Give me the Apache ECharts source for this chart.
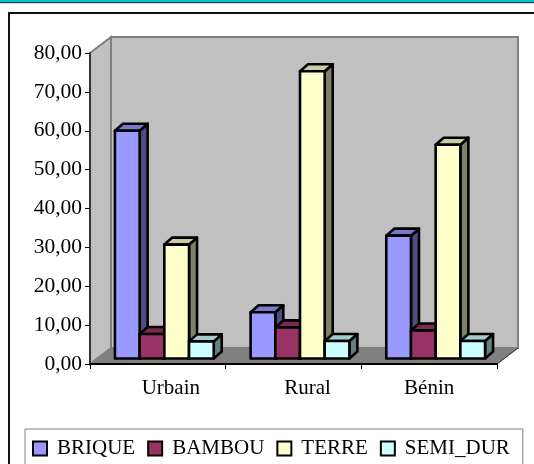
<!DOCTYPE html>
<html>
<head>
<meta charset="utf-8">
<style>
html, body { margin: 0; padding: 0; background: #fff; }
#chart { width: 534px; height: 464px; }
</style>
<script src="https://cdn.jsdelivr.net/npm/echarts@6/dist/echarts.min.js"></script>
</head>
<body>
<div id="chart"></div>
<script>
const categories = ["Urbain", "Rural", "Bénin"];
const brique = [58.6, 11.9, 31.6];
const bambou = [6.3, 8.0, 7.2];
const terre = [29.3, 73.9, 55.0];
const semiDur = [4.4, 4.5, 4.5];

const font = '"Liberation Serif", "Times New Roman", serif';

// wall depth of the fake 3D box
const wallDx = 21, wallDy = 16;

function drawWalls(params, api) {
  // box corners come from the axis scales
  let halfBand = api.size([1, 0])[0] / 2;
  let first = api.coord([0, 0]);
  let last = api.coord([2, 0]);
  let t = api.coord([0, 80]);
  let ox = first[0] - halfBand, ex = last[0] + halfBand, oy = first[1], ty = t[1];
  return {
    type: "group",
    children: [
      {
        type: "polygon",
        shape: { points: [[ox, ty], [ox + wallDx, ty - wallDy], [ox + wallDx, oy - wallDy], [ox, oy]] },
        style: { fill: "#c0c0c0", stroke: "#808080", lineWidth: 2 },
      },
      {
        type: "rect",
        shape: { x: ox + wallDx, y: ty - wallDy, width: ex - ox, height: oy - ty },
        style: { fill: "#c0c0c0", stroke: "#808080", lineWidth: 2 },
      },
      {
        type: "polygon",
        shape: { points: [[ox, oy], [ox + wallDx, oy - wallDy], [ex + wallDx, oy - wallDy], [ex, oy]] },
        style: { fill: "#808080", stroke: "#808080", lineWidth: 1 },
      },
      {
        type: "line",
        shape: { x1: ex, y1: oy, x2: ex + wallDx, y2: oy - wallDy },
        style: { stroke: "#333", lineWidth: 1 },
      },
    ],
  };
}

function bar3d(seriesIndex, colors) {
  const barW = 24.7, sideDx = 8, sideDy = 7, shiftX = 6.5, shiftY = 5.5;
  return function (params, api) {
    let c = api.coord([api.value(0), api.value(1)]);
    let base = api.coord([api.value(0), 0]);
    let x0 = c[0] + shiftX + (seriesIndex - 2) * barW;
    let x1 = x0 + barW;
    let top = c[1] - shiftY;
    let bot = base[1] - shiftY;
    let line = { stroke: "#000", lineWidth: 2.6, lineJoin: "round" };
    return {
      type: "group",
      children: [
        {
          type: "polygon",
          shape: { points: [[x1, top], [x1 + sideDx, top - sideDy], [x1 + sideDx, bot - sideDy], [x1, bot]] },
          style: { fill: colors.side, ...line },
        },
        {
          type: "polygon",
          shape: { points: [[x0, top], [x0 + sideDx, top - sideDy], [x1 + sideDx, top - sideDy], [x1, top]] },
          style: { fill: colors.top, ...line },
        },
        {
          type: "rect",
          shape: { x: x0, y: top, width: barW, height: bot - top },
          style: { fill: colors.front, ...line },
        },
      ],
    };
  };
}

function makeSeries(name, values, index, colors) {
  return {
    name: name,
    type: "custom",
    coordinateSystem: "cartesian2d",
    clip: false,
    z: 3 + index,
    itemStyle: { color: colors.front },
    renderItem: bar3d(index, colors),
    encode: { x: 0, y: 1 },
    data: values.map((v, i) => [i, v]),
  };
}

let myChart = echarts.init(document.getElementById("chart"), null, { renderer: "canvas" });

// the labels sit off the band centres in the original
let labelPad = [26, 28, 0];

let option = {
  animation: false,
  backgroundColor: "#fff",
  textStyle: { fontFamily: font },
  graphic: [
    // strip at the top of the page
    { type: "rect", shape: { x: 0, y: 0, width: 534, height: 2 }, style: { fill: "#00c0cc" }, z: 0 },
    { type: "rect", shape: { x: 0, y: 2, width: 534, height: 1 }, style: { fill: "#0a5560" }, z: 0 },
    { type: "rect", shape: { x: 0, y: 3, width: 534, height: 1 }, style: { fill: "#e0cdb0" }, z: 0 },
    // chart frame, runs off the right and bottom
    { type: "rect", shape: { x: 9, y: 13, width: 540, height: 470 }, style: { fill: "none", stroke: "#111", lineWidth: 2 }, z: 0 },
  ],
  grid: { left: 90, right: 37, top: 53, bottom: 100 },
  legend: {
    left: 25,
    top: 429,
    orient: "horizontal",
    padding: [9, 13, 9, 7],
    itemGap: 12,
    itemWidth: 14,
    itemHeight: 14,
    icon: "rect",
    borderColor: "#808080",
    borderWidth: 1,
    itemStyle: { borderColor: "#000", borderWidth: 2 },
    textStyle: { fontFamily: font, fontSize: 21, color: "#000", padding: [0, 0, 0, 5] },
    data: ["BRIQUE", "BAMBOU", "TERRE", "SEMI_DUR"],
  },
  xAxis: {
    type: "category",
    z: 10,
    data: categories.map((c, i) => ({ value: c, textStyle: { padding: [0, 0, 0, labelPad[i]] } })),
    boundaryGap: true,
    axisLine: { lineStyle: { color: "#000", width: 2 } },
    axisTick: { show: true, alignWithLabel: false, length: 5, lineStyle: { color: "#000", width: 1 } },
    axisLabel: { fontFamily: font, fontSize: 21, color: "#000", margin: 14 },
  },
  yAxis: {
    type: "value",
    z: 10,
    min: 0,
    max: 80,
    interval: 10,
    axisLine: { show: true, lineStyle: { color: "#333", width: 2 } },
    axisTick: { show: true, length: 5, lineStyle: { color: "#000", width: 1 } },
    splitLine: { show: false },
    axisLabel: {
      fontFamily: font,
      fontSize: 21.5,
      color: "#000",
      margin: 8,
      padding: [2, 0, 0, 0],
      formatter: (v) => v.toFixed(2).replace(".", ","),
    },
  },
  series: [
    {
      type: "custom",
      coordinateSystem: "cartesian2d",
      clip: false,
      silent: true,
      z: 1,
      renderItem: drawWalls,
      data: [[0, 0]],
    },
    makeSeries("BRIQUE", brique, 0, { front: "#9999ff", top: "#7a7acc", side: "#4d4d80" }),
    makeSeries("BAMBOU", bambou, 1, { front: "#993366", top: "#7a2952", side: "#4d1a33" }),
    makeSeries("TERRE", terre, 2, { front: "#ffffcc", top: "#cccca3", side: "#808066" }),
    makeSeries("SEMI_DUR", semiDur, 3, { front: "#ccffff", top: "#a3cccc", side: "#668080" }),
  ],
};
myChart.setOption(option);
</script>
</body>
</html>
